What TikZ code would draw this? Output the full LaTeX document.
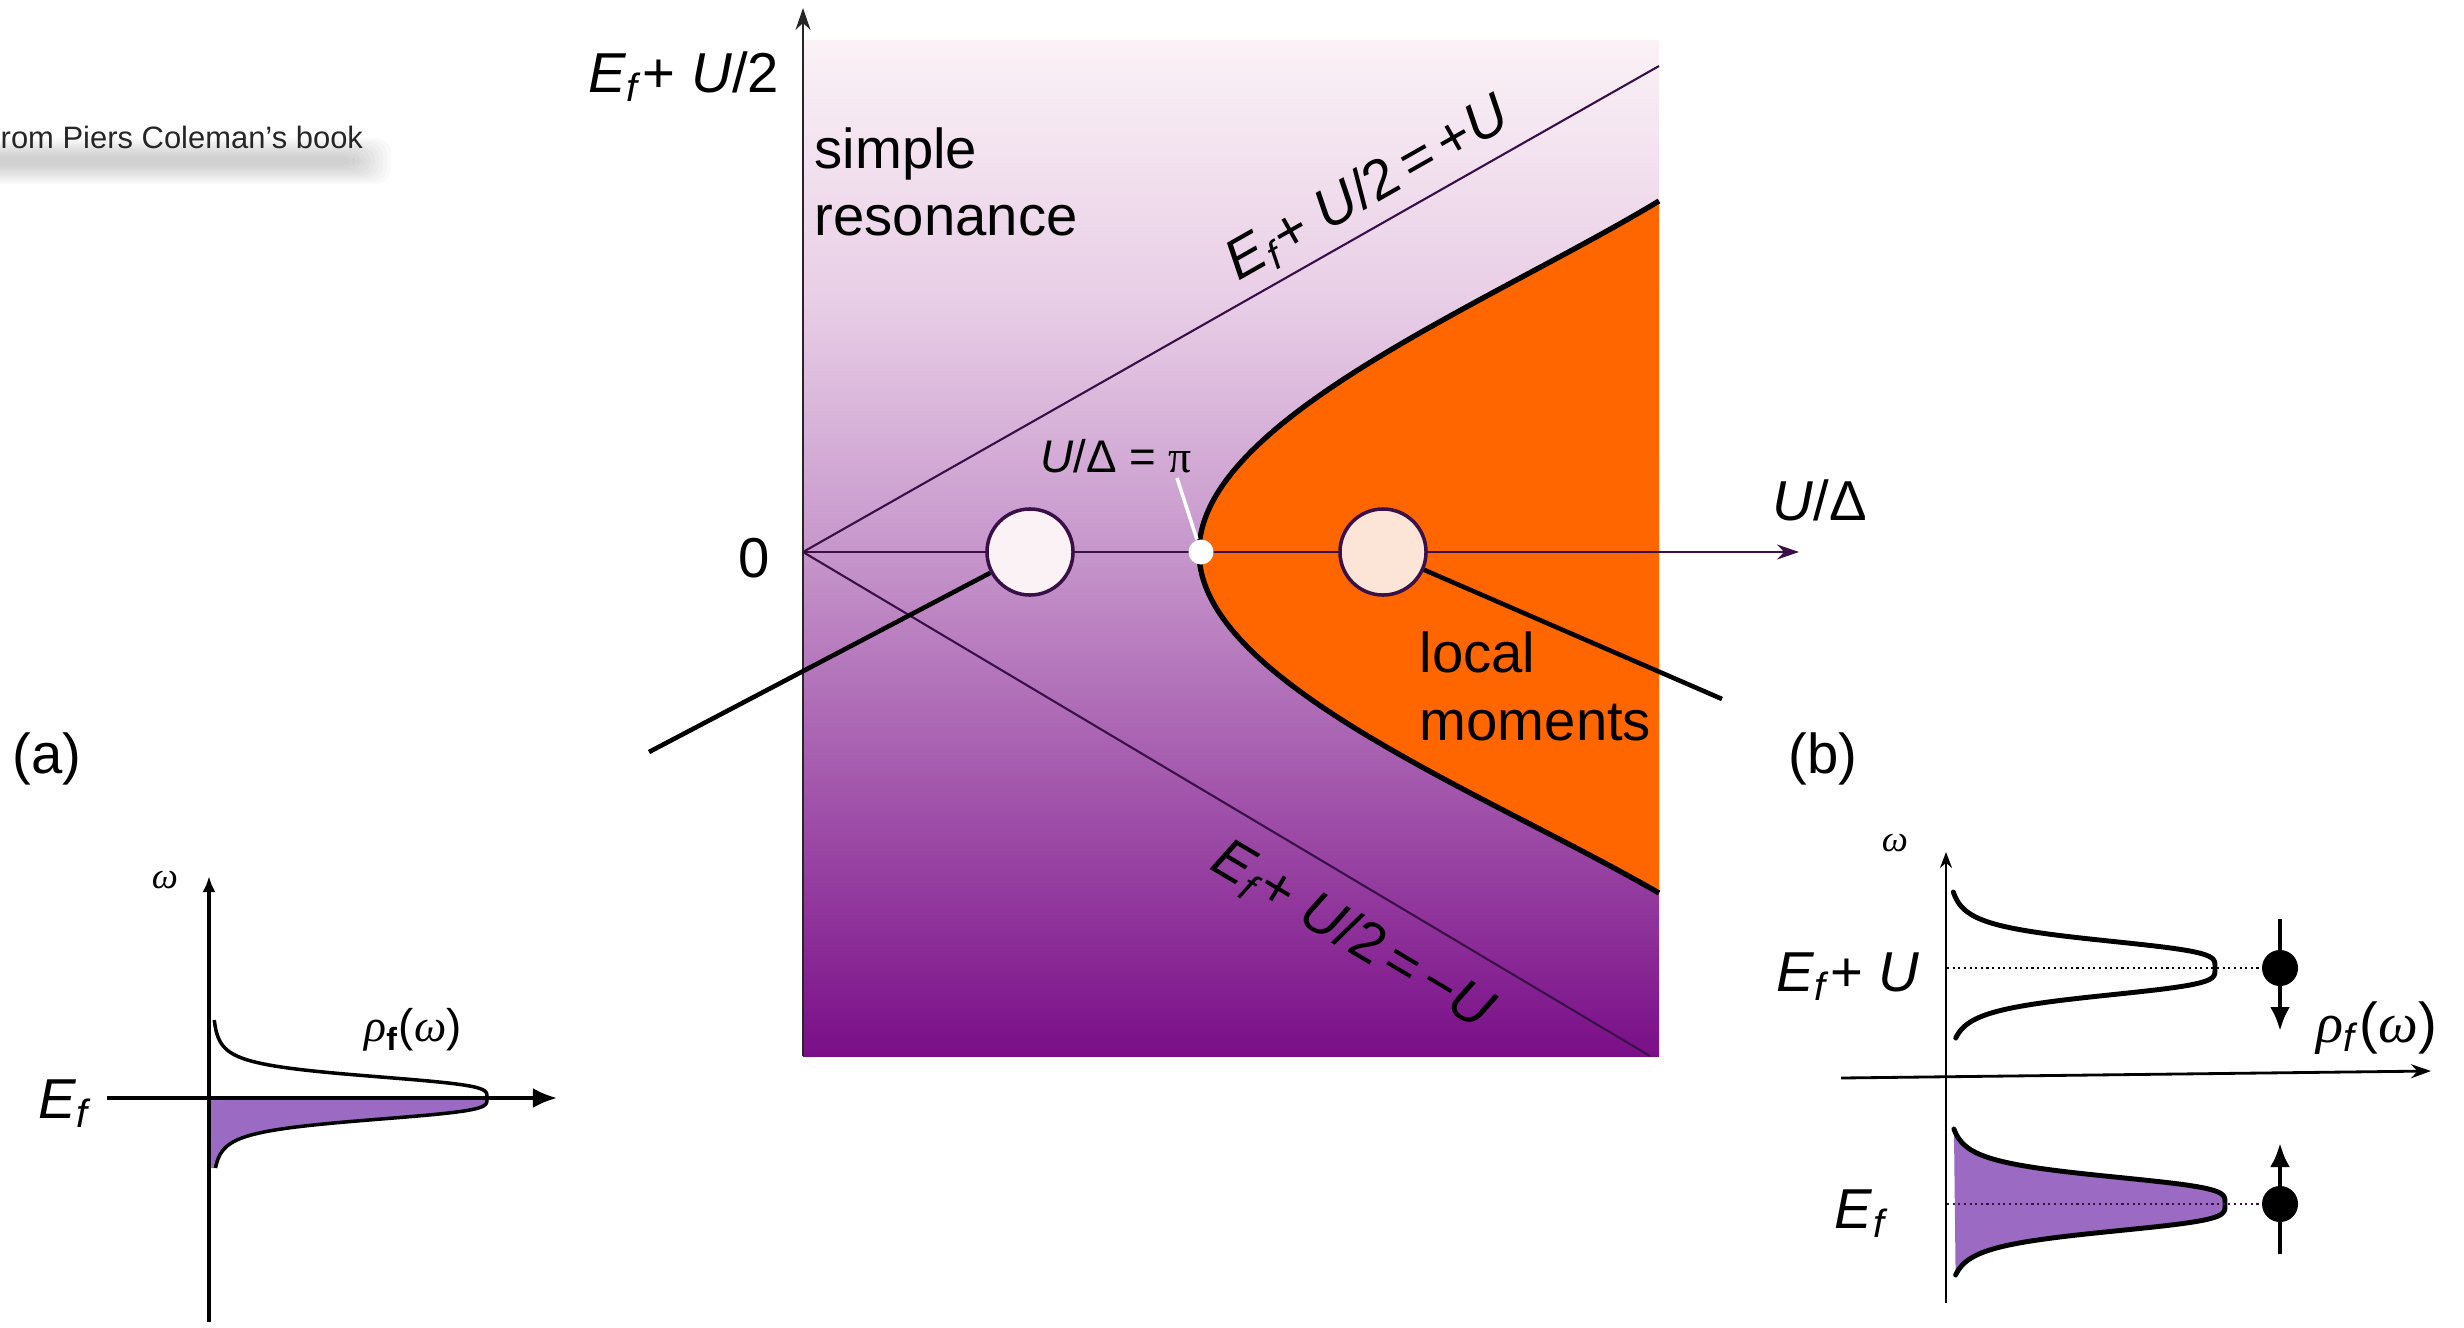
\documentclass[tikz,border=0pt]{standalone}
\usepackage{fontspec}
\setmainfont{Liberation Sans}
\newfontfamily\grk{Liberation Serif}
\usepackage{tikz}
\usetikzlibrary{arrows.meta,positioning}
\usepackage{xcolor}
\definecolor{bgtop}{RGB}{251,242,246}
\definecolor{bgup}{RGB}{232,205,230}
\definecolor{bgmid}{RGB}{198,150,203}
\definecolor{bgbot}{RGB}{122,14,136}
\definecolor{moment}{RGB}{255,102,0}
\definecolor{dpurple}{RGB}{58,16,72}
\definecolor{dosfill}{RGB}{155,106,194}
\pgfdeclareverticalshading{phase}{100bp}{color(0bp)=(bgbot); color(25bp)=(bgbot); color(49.8bp)=(bgmid); color(62bp)=(bgup); color(75bp)=(bgtop); color(100bp)=(bgtop)}
\newcommand{\Ef}{\textit{E}\textsubscript{\textit{f}}}
\newcommand{\Ud}{\textit{U}/Δ}

\begin{document}
\begin{tikzpicture}[x=0.01cm, y=-0.01cm,
        big/.style={font=\fontsize{16}{19.2}\selectfont},
        mid/.style={font=\fontsize{13}{15}\selectfont},
        tiny/.style={font=\fontsize{10.5}{12}\selectfont},
        axis/.style={line width=0.6pt, -{Stealth[length=2.2mm, width=1.5mm]}},
        link/.style={line width=1.3pt},
        dos/.style={line width=1.4pt, line cap=round},
        bubble/.style={circle, draw=dpurple, line width=1pt, minimum size=0.86cm, inner sep=0pt},
        spin/.style={line width=1.3pt, -{Latex[length=2.4mm, width=2mm]}}
    ]
    \useasboundingbox (0,0) rectangle (2464,1327);
    % Source note
    \foreach \g in {0,...,9}
        \fill[black, opacity=0.018, rounded corners=0.15cm] (-20,156-\g*2) rectangle (355+\g*4,166+\g*2);
    \node[anchor=west, inner sep=0pt, text=black!85, font=\fontsize{8.8}{10}\selectfont] (source) at (0,137) {rom Piers Coleman’s book};

    % Phase diagram
    \shade[shading=phase] (803,40) rectangle (1659,1056);
    \fill[moment] (1659,201) .. controls (1488,304) and (1199,420) .. (1199,552)
        .. controls (1199,682) and (1486,793) .. (1659,893) -- cycle;
    \draw[dpurple, line width=0.6pt] (803,552) -- (1659,66);
    \draw[dpurple, line width=0.6pt] (803,552) -- (1650,1056);
    \draw[axis, black!85] (803,1056) -- (803,8);
    \draw[axis, dpurple] (803,552) -- (1799,552);
    \draw[line width=1.5pt] (1659,201) .. controls (1488,304) and (1199,420) .. (1199,552)
        .. controls (1199,682) and (1486,793) .. (1659,893);

    % Labels
    \node[big] (efu2) at (684,77) {\Ef+ \textit{U}/2};
    \node[big] (zero) at (754,558) {0};
    \node[big] (udelta) at (1820,500) {\Ud};
    \node[big, align=left, anchor=north west, inner sep=0pt] (simple-lbl) at (814,127) {simple\\resonance};
    \node[big, align=left, anchor=north west, inner sep=0pt] (local-lbl) at (1419,631) {local\\moments};
    \node[big, rotate=29.6] (plus-lbl) at (1368,190) {\Ef+ \textit{U}/2\,=\,+\textit{U}};
    \node[big, rotate=-30.75] (minus-lbl) at (1352,936) {\Ef+ \textit{U}/2\,=\,−\textit{U}};
    \node[mid] (pi-lbl) at (1116,456) {\Ud\ = {\grk π}};

    % Critical point
    \coordinate (pi-tip) at (1177,478);
    \node[circle, fill=white, inner sep=0pt, minimum size=0.25cm] (crit) at (1201,552) {};
    \draw[white, line width=1pt] (crit) -- (pi-tip);

    % Bubbles and links
    \coordinate (a-end) at (649,752);
    \coordinate (b-end) at (1722,699);
    \node[bubble, fill=bgtop] (simple) at (1030,552) {};
    \node[bubble, fill={rgb,255:red,252;green,229;blue,214}] (local) at (1383,552) {};
    \draw[link] (a-end) -- (simple);
    \draw[link] (b-end) -- (local);

    % Panel (a)
    \node[big] (a-lbl) at (47,759) {(a)};
    \fill[dosfill] (211,1098) -- plot[domain=0:70, samples=60, variable=\t] ({211+275/(1+(\t/23.6)^4)},{1098+\t}) -- (211,1168) -- cycle;
    \draw[line width=1pt, -{Latex[length=2.4mm, width=2mm]}] (107,1098) -- (557,1098);
    \draw[line width=0.9pt, -{Latex[length=1.6mm, width=1.3mm]}] (209,1322) -- (209,876);
    \draw[line width=1pt] plot[domain=-78:70, samples=120, variable=\t] ({212+275/(1+(\t/23.6)^4)},{1098+\t});
    \node[big] (a-ef) at (66,1104) {\Ef};
    \node[tiny] (a-omega) at (165,880) {\grk\itshape ω};
    \node[mid] (a-rho) at (413,1030) {{\grk\itshape ρ}\textsubscript{\textbf{f}}({\grk\itshape ω})};

    % Panel (b)
    \node[big] (b-lbl) at (1823,759) {(b)};
    \fill[dosfill] plot[domain=-75:71, samples=120, variable=\t] ({1947+278/(1+(\t/30)^4)},{1204+\t}) -- cycle;
    \draw[line width=0.6pt, -{Stealth[length=1.6mm, width=1.2mm]}] (1946,1303) -- (1946,852);
    \draw[line width=0.8pt, -{Stealth[length=2mm, width=1.4mm]}] (1841,1078) -- (2431,1071);
    \draw[dos] plot[domain=-76:70, samples=120, variable=\t] ({1947+268/(1+(\t/30)^4)},{968+\t});
    \draw[dos] plot[domain=-75:71, samples=120, variable=\t] ({1947+278/(1+(\t/30)^4)},{1204+\t});
    \node[circle, fill=black, inner sep=0pt, minimum size=0.36cm] (dot-up) at (2280,968) {};
    \node[circle, fill=black, inner sep=0pt, minimum size=0.36cm] (dot-dn) at (2280,1204) {};
    \draw[densely dotted, line width=0.6pt] (1947,968) -- (dot-up);
    \draw[densely dotted, line width=0.6pt, dpurple] (1947,1204) -- (dot-dn);
    \draw[spin] (2280,919) -- (2280,1031);
    \draw[spin] (2280,1254) -- (2280,1143);
    \node[big] (b-efu) at (1848,977) {\Ef+ \textit{U}};
    \node[big] (b-ef) at (1862,1214) {\Ef};
    \node[tiny] (b-omega) at (1895,843) {\grk\itshape ω};
    \node[big] (b-rho) at (2377,1028) {{\grk\itshape ρ}\textsubscript{\textit{f}}({\grk\itshape ω})};
\end{tikzpicture}
\end{document}
